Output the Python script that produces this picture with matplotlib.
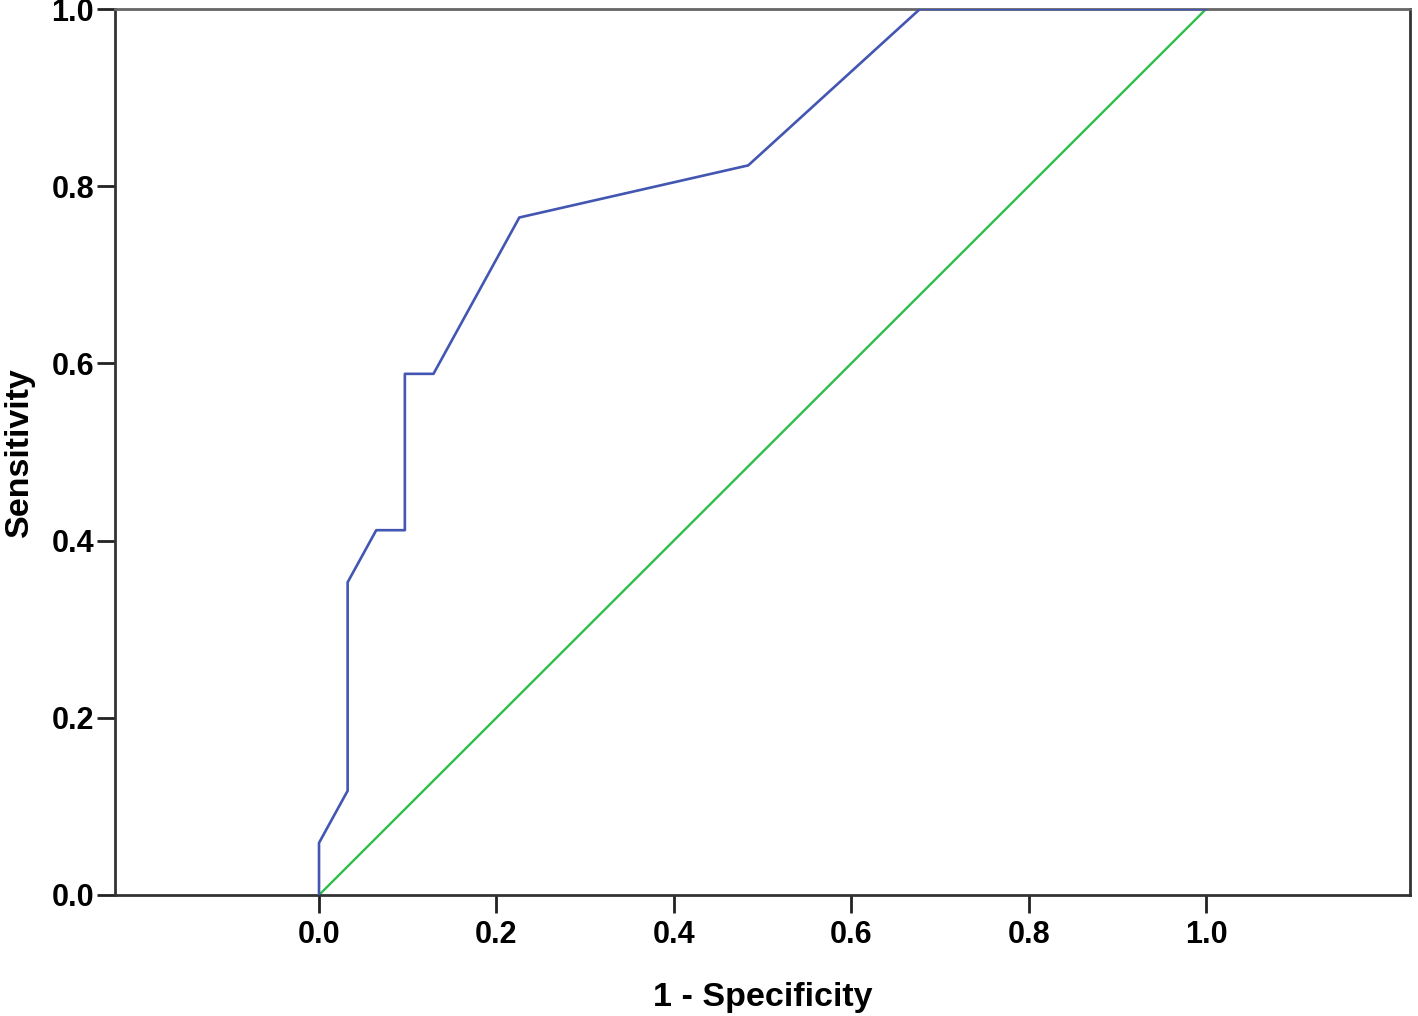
import numpy as np
import matplotlib
matplotlib.use("Agg")
import matplotlib.pyplot as plt

plt.rcParams['font.family'] = ['Liberation Sans', 'DejaVu Sans']

# ROC curve points (1 - specificity, sensitivity)
fpr = [0.0, 0.0, 1/31, 1/31, 2/31, 3/31, 3/31, 4/31, 7/31, 15/31, 21/31, 1.0]
tpr = [0.0, 1/17, 2/17, 6/17, 7/17, 7/17, 10/17, 10/17, 13/17, 14/17, 1.0, 1.0]
ref_line = [0.0, 1.0]
ticks = [0.0, 0.2, 0.4, 0.6, 0.8, 1.0]

fig = plt.figure(figsize=(14.18, 10.16), dpi=100)
ax = fig.add_axes([0.0811, 0.1191, 0.9133, 0.872])

ax.plot(ref_line, ref_line, color='#2DBE4A', linewidth=1.7, zorder=2)
ax.plot(fpr, tpr, color='#4256B2', linewidth=1.9, zorder=3)

ax.set_xlim(-0.23, 1.23)
ax.set_ylim(0.0, 1.0)
ax.set_xticks(ticks)
ax.set_yticks(ticks)
ax.set_xticklabels([f"{t:.1f}" for t in ticks], fontsize=22, fontweight='bold')
ax.set_yticklabels([f"{t:.1f}" for t in ticks], fontsize=22, fontweight='bold')
ax.tick_params(direction='out', length=13, width=2, color='#222222')
ax.tick_params(axis='x', pad=5)
ax.tick_params(axis='y', pad=2)

for side in ['left', 'bottom', 'right']:
    ax.spines[side].set_linewidth(2)
    ax.spines[side].set_color('#333333')
ax.spines['top'].set_linewidth(2)
ax.spines['top'].set_color('#666666')

ax.set_xlabel('1 - Specificity', fontsize=24.5, fontweight='bold', labelpad=23)
ax.set_ylabel('Sensitivity', fontsize=24.5, fontweight='bold', labelpad=12)

fig.savefig("out.png", dpi=100)
